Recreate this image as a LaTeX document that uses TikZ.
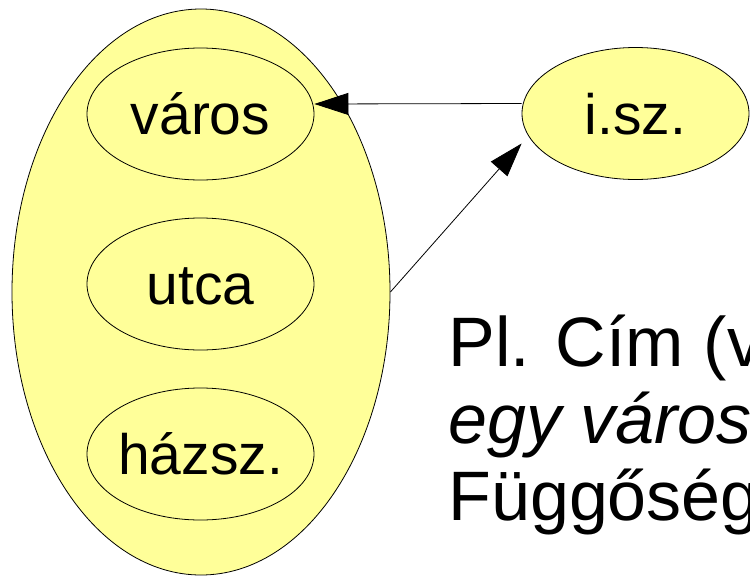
\documentclass[tikz,border=0pt]{standalone}
\usepackage{fontspec}
\setmainfont{Liberation Sans}
\usetikzlibrary{shapes.geometric,arrows.meta}
\definecolor{ylw}{HTML}{FFFF99}
\begin{document}
\begin{tikzpicture}[x=1pt,y=-1pt,line width=0.8pt,
  oval/.style={ellipse, draw=black, fill=ylw, inner sep=0pt},
  small/.style={oval, minimum width=227pt, minimum height=132pt},
  lbl/.style={font=\fontsize{57}{68}\selectfont, anchor=base, inner sep=0pt},
  rtxt/.style={font=\fontsize{70}{77}\selectfont, anchor=base west, inner sep=0pt},
  arr/.style={-{Triangle[length=34pt,width=22pt]}, line width=0.8pt}]
\useasboundingbox (0,0) rectangle (750,576);
\clip (0,0) rectangle (750,576);
\node[oval, minimum width=378pt, minimum height=566pt] (big) at (201,292) {};
\node[small] (varos) at (200.5,114) {};
\node[small] (utca) at (200.5,284) {};
\node[small] (hazsz) at (200.5,454) {};
\node[small] (isz) at (635.5,113.5) {};
\node[lbl] (tvaros) at (200.5,134) {város};
\node[lbl] (tutca) at (200.5,304) {utca};
\node[lbl] (thazsz) at (200.5,474) {házsz.};
\node[lbl] (tisz) at (635.5,134) {i.sz.};
\node[rtxt] (l1) at (448,366) {Pl. Cím (v};
\node[rtxt] (l2) at (448,443) {\itshape egy város};
\node[rtxt] (l3) at (448,520) {Függőség};
\draw[arr] ([yshift=10pt]isz.west) -- ([yshift=10pt]varos.east);
\draw[arr] (big.east) -- ([yshift=-30pt]isz.west);
\end{tikzpicture}
\end{document}
